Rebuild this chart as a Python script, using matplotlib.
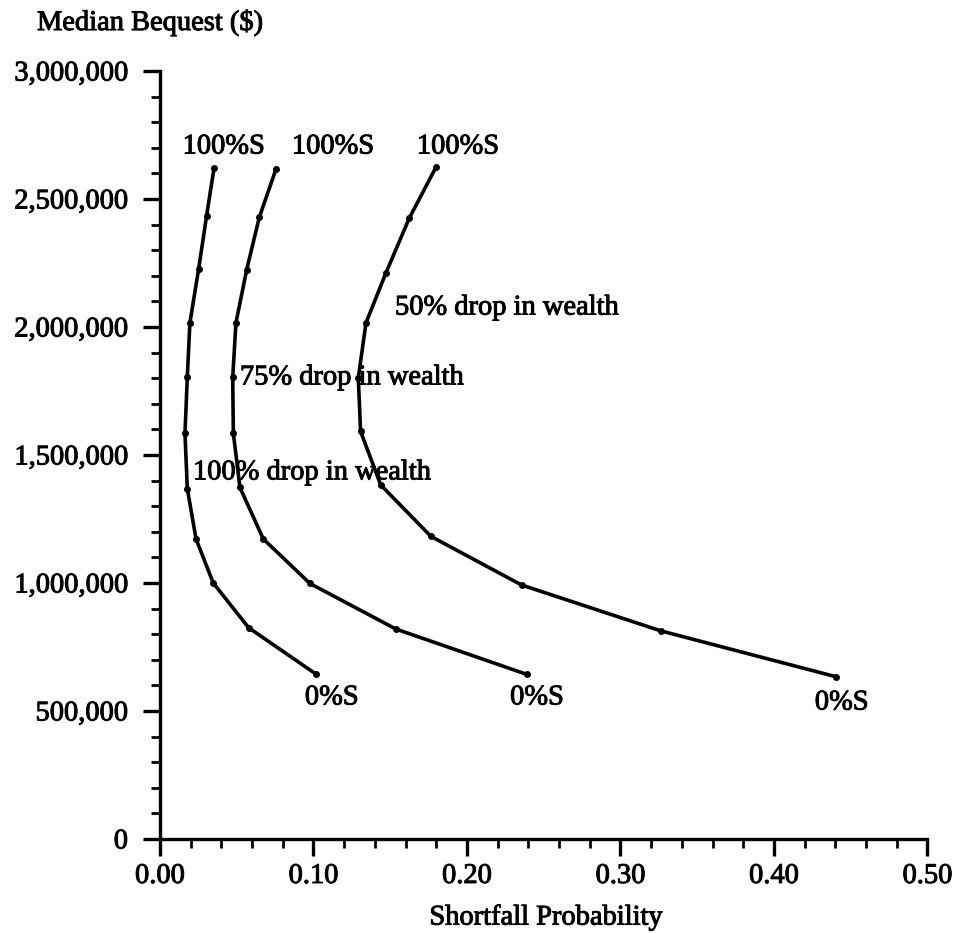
import matplotlib
matplotlib.use("Agg")
import matplotlib.pyplot as plt
import matplotlib.patheffects as pe
from matplotlib.ticker import MultipleLocator, FuncFormatter

plt.rcParams['font.family'] = ['Liberation Serif', 'DejaVu Serif']
plt.rcParams['font.size'] = 20.5

# Shortfall probability vs. median bequest, from 100% stocks (top) to 0% stocks (bottom)
shortfall_100 = [0.0352, 0.0304, 0.0252, 0.0195, 0.0178, 0.0163, 0.0178, 0.0235, 0.0347, 0.0578, 0.1014]
bequest_100 = [2620000, 2435000, 2227000, 2016000, 1803000, 1585000, 1369000, 1172000, 1000000, 825000, 645000]

shortfall_75 = [0.0756, 0.0647, 0.0565, 0.0495, 0.0474, 0.0478, 0.0521, 0.0673, 0.0977, 0.1537, 0.2389]
bequest_75 = [2617000, 2428000, 2224000, 2016000, 1803000, 1585000, 1373000, 1172000, 998000, 820000, 643000]

shortfall_50 = [0.1798, 0.1624, 0.1472, 0.1342, 0.1292, 0.1307, 0.1438, 0.1765, 0.2356, 0.3262, 0.4402]
bequest_50 = [2624000, 2425000, 2211000, 2016000, 1800000, 1592000, 1383000, 1182000, 992000, 813000, 634000]

# thicken glyphs a little so the serif text reads heavier
heavy = [pe.withStroke(linewidth=0.7, foreground='black')]

fig = plt.figure(figsize=(9.55, 9.33), dpi=100)
ax = fig.add_axes([0.1675, 0.1008, 0.8037, 0.8231])

for xs, ys in [(shortfall_100, bequest_100), (shortfall_75, bequest_75), (shortfall_50, bequest_50)]:
    ax.plot(xs, ys, color='black', lw=2.6, marker='o', ms=4, solid_joinstyle='round')

# end labels
for x, y, s in [(0.0415, 2703000, '100%S'), (0.1127, 2703000, '100%S'), (0.1941, 2703000, '100%S'),
                (0.1119, 551000, '0%S'), (0.2456, 551000, '0%S'), (0.4441, 531000, '0%S')]:
    ax.text(x, y, s, ha='center', va='center', path_effects=heavy)

# curve names
ax.text(0.1531, 2074000, '50% drop in wealth', ha='left', va='center', path_effects=heavy)
ax.text(0.0521, 1801000, '75% drop in wealth', ha='left', va='center', path_effects=heavy)
ax.text(0.0215, 1430000, '100% drop in wealth', ha='left', va='center', path_effects=heavy)

ax.set_xlim(0, 0.5)
ax.set_ylim(0, 3000000)
ax.xaxis.set_major_locator(MultipleLocator(0.1))
ax.xaxis.set_minor_locator(MultipleLocator(0.02))
ax.yaxis.set_major_locator(MultipleLocator(500000))
ax.yaxis.set_minor_locator(MultipleLocator(100000))
ax.xaxis.set_major_formatter(FuncFormatter(lambda v, p: f'{v:.2f}'))
ax.yaxis.set_major_formatter(FuncFormatter(lambda v, p: f'{v:,.0f}'))

for side in ['top', 'right']:
    ax.spines[side].set_visible(False)
for side in ['left', 'bottom']:
    ax.spines[side].set_linewidth(2.4)

ax.tick_params(which='major', direction='out', length=12, width=2.4)
ax.tick_params(which='minor', direction='out', length=6.5, width=2.0)
ax.tick_params(axis='x', which='major', pad=6)
ax.tick_params(axis='y', which='major', pad=11)
for lab in ax.get_xticklabels() + ax.get_yticklabels():
    lab.set_path_effects(heavy)

fig.text(0.0387, 0.9753, 'Median Bequest ($)', ha='left', va='center', path_effects=heavy)
fig.text(0.5716, 0.016, 'Shortfall Probability', ha='center', va='center', path_effects=heavy)

fig.savefig('out.png', dpi=100)
